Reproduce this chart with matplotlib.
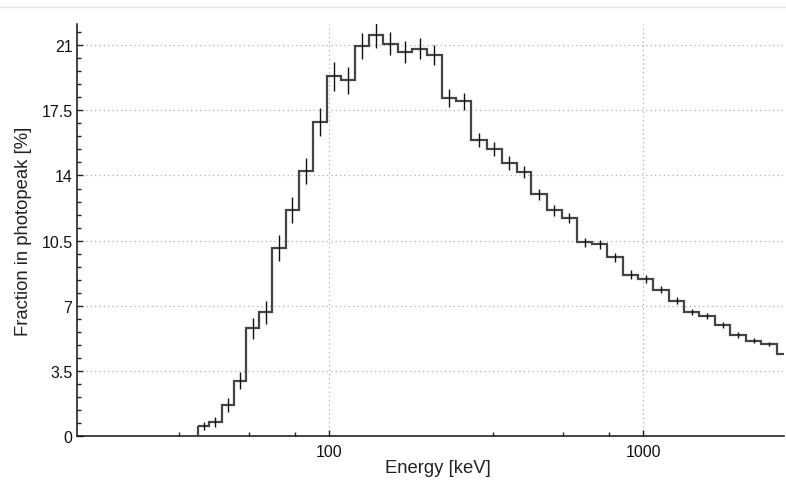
import numpy as np
import matplotlib
matplotlib.use("Agg")
import matplotlib.pyplot as plt
from matplotlib.lines import Line2D
from matplotlib.ticker import FixedLocator, NullFormatter

# Bin edges (keV)
edges = [38.4, 41.6, 45.5, 49.9, 54.4, 60.0, 66.0, 72.8, 80.4, 88.7, 98.3,
         109.0, 120.6, 134.1, 148.9, 165.5, 184.2, 204.7, 228.5, 253.8, 283.3,
         317.8, 354.8, 396.1, 439.9, 493.5, 551.0, 615.0, 689.6, 769.6, 863.0,
         966.0, 1078.0, 1210.0, 1351.0, 1511.0, 1696.0, 1893.0, 2124.0, 2376.0,
         2666.0, 2990.0]
# Fraction in photopeak per bin (%)
fraction = [0.54, 0.75, 1.65, 2.96, 5.78, 6.64, 10.10, 12.12, 14.25, 16.88,
            19.33, 19.12, 20.97, 21.54, 21.09, 20.65, 20.82, 20.46, 18.17, 17.99,
            15.92, 15.44, 14.67, 14.18, 12.98, 12.12, 11.72, 10.41, 10.29, 9.61,
            8.67, 8.44, 7.85, 7.27, 6.64, 6.43, 5.96, 5.42, 5.12, 4.94, 4.40]
# Uncertainty per bin (%)
uncert = [0.22, 0.28, 0.39, 0.45, 0.56, 0.63, 0.69, 0.70, 0.71, 0.74,
          0.76, 0.71, 0.72, 0.69, 0.61, 0.58, 0.56, 0.54, 0.48, 0.45,
          0.39, 0.38, 0.37, 0.33, 0.31, 0.29, 0.27, 0.24, 0.24, 0.24,
          0.22, 0.20, 0.19, 0.18, 0.17, 0.16, 0.15, 0.14, 0.13, 0.12, 0.11]

yticks = [0, 3.5, 7, 10.5, 14, 17.5, 21]
ytick_labels = ["0", "3.5", "7", "10.5", "14", "17.5", "21"]
xticks = [100, 1000]
xtick_labels = ["100", "1000"]

plt.rcParams['font.family'] = ['Liberation Sans', 'DejaVu Sans']

fig = plt.figure(figsize=(7.86, 4.81), dpi=100)
ax = fig.add_axes([0.0983, 0.0921, 0.8992, 0.8559])

edges_a = np.array(edges)
frac_a = np.array(fraction)
centers = np.sqrt(edges_a[:-1] * edges_a[1:])

ax.stairs(frac_a, edges_a, color='#444444', linewidth=1.6, baseline=None, zorder=3)
ax.vlines(edges_a[0], 0, frac_a[0], color='#444444', linewidth=1.6, zorder=3)
ax.errorbar(centers, frac_a, yerr=uncert, fmt='none', ecolor='#111111',
            elinewidth=1.0, capsize=0, zorder=4)

ax.set_xscale('log')
ax.set_xlim(15.8, 2810)
ax.set_ylim(0, 22.15)

ax.xaxis.set_major_locator(FixedLocator(xticks))
ax.set_xticklabels(xtick_labels)
minors_x = [11.11, 33.33, 55.56, 77.78, 333.3, 555.6, 777.8, 3333]
ax.xaxis.set_minor_locator(FixedLocator(minors_x))
ax.xaxis.set_minor_formatter(NullFormatter())

ax.yaxis.set_major_locator(FixedLocator(yticks))
ax.set_yticklabels(ytick_labels)
ax.yaxis.set_minor_locator(FixedLocator(np.arange(0, 22.2, 0.7)))

ax.tick_params(axis='both', which='major', direction='in', length=4, width=1,
               labelsize=11.5, color='#222222', labelcolor='#111111')
ax.tick_params(axis='x', which='major', pad=6)
ax.tick_params(axis='both', which='minor', direction='in', length=3, width=1,
               color='#222222')

ax.grid(True, which='major', linestyle=(0, (1, 2.5)), color='#b0b0b0', linewidth=0.9)
ax.set_axisbelow(True)

for s in ['top', 'right']:
    ax.spines[s].set_visible(False)
for s in ['left', 'bottom']:
    ax.spines[s].set_linewidth(1.1)
    ax.spines[s].set_color('#111111')

ax.set_xlabel("Energy [keV]", fontsize=13.3, color='#222222')
ax.xaxis.label.set_va('center')
ax.xaxis.set_label_coords(0.51, -0.078)
ax.set_ylabel("Fraction in photopeak [%]", fontsize=13.3, color='#222222', labelpad=7)

fig.add_artist(Line2D([0, 1], [1 - 8/481, 1 - 8/481], transform=fig.transFigure,
                      color='#e6e6e6', linewidth=1))

fig.savefig("out.png", dpi=100)
